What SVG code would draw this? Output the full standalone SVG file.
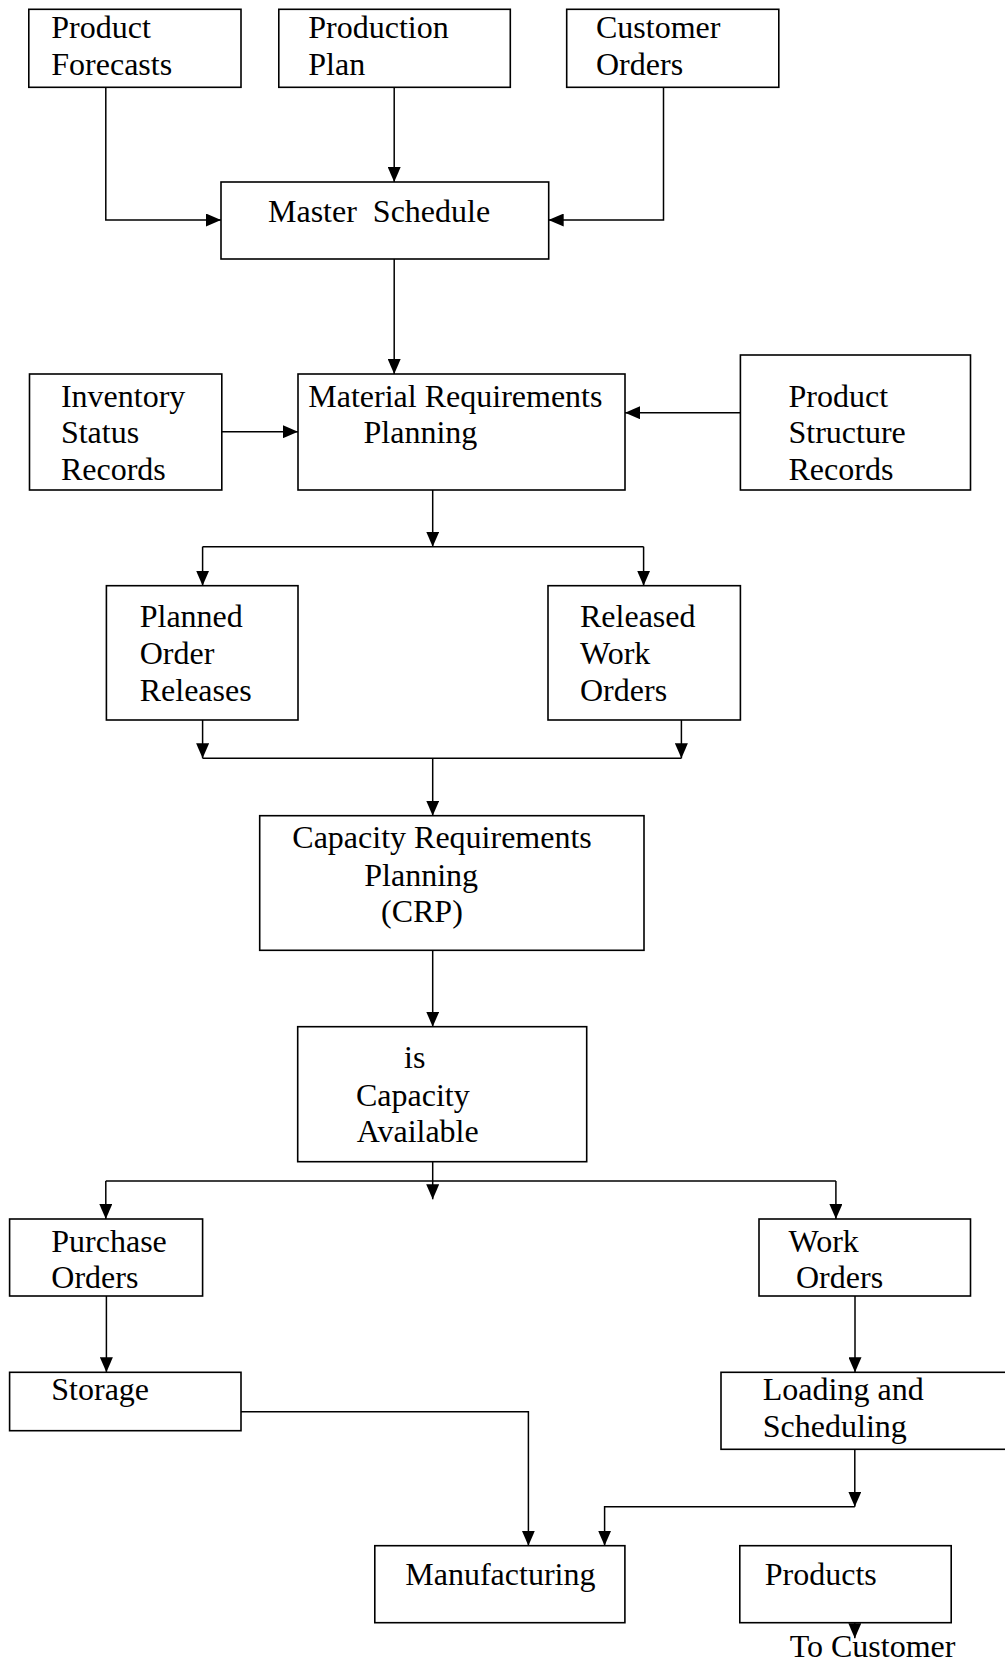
<svg xmlns="http://www.w3.org/2000/svg" width="1005" height="1663" viewBox="0 0 1005 1663">
<style>
rect{fill:#fff;stroke:#000;stroke-width:1.6}
text{font-family:"Liberation Serif","Times New Roman",serif;font-size:32px;fill:#000}
.c path{fill:none;stroke:#000;stroke-width:1.5}
.a{marker-end:url(#ah)}
</style>
<defs>
<marker id="ah" markerUnits="userSpaceOnUse" markerWidth="15" markerHeight="13" refX="15" refY="6.5" orient="auto">
<path d="M0,0 L15,6.5 L0,13 z" fill="#000"/>
</marker>
</defs>
<g class="c" id="connectors">
<path class="a" d="M105.8,87.3 V220 H221"/>
<path class="a" d="M394.2,87.3 V182"/>
<path class="a" d="M663.5,87.3 V220 H548.7"/>
<path class="a" d="M394.2,259 V374"/>
<path class="a" d="M221.8,431.7 H298"/>
<path class="a" d="M740.4,412.7 H625"/>
<path class="a" d="M432.7,490 V546.7"/>
<path d="M202.6,546.7 H643.6"/>
<path class="a" d="M202.6,546.7 V585.7"/>
<path class="a" d="M643.6,546.7 V585.7"/>
<path class="a" d="M202.6,720 V758.3"/>
<path class="a" d="M681.4,720 V758.3"/>
<path d="M202.6,758.3 H681.4"/>
<path class="a" d="M432.7,758.3 V815.7"/>
<path class="a" d="M432.7,950.3 V1026.7"/>
<path class="a" d="M432.7,1161.7 V1199.3"/>
<path d="M105.8,1181 H835.9"/>
<path class="a" d="M105.8,1181 V1219"/>
<path class="a" d="M835.9,1181 V1219"/>
<path class="a" d="M106.4,1296 V1372.3"/>
<path class="a" d="M855,1296 V1372.3"/>
<path class="a" d="M241,1411.7 H528.4 V1545.7"/>
<path class="a" d="M854.8,1449.3 V1506.7"/>
<path class="a" d="M854.8,1506.7 H604.6 V1545.7"/>
<path class="a" d="M854.8,1622.7 V1638.3"/>
</g>
<g id="product-forecasts"><rect x="28.8" y="9.3" width="212.2" height="78"/><text x="51.3" y="38.3">Product</text><text x="51.3" y="75">Forecasts</text></g>
<g id="production-plan"><rect x="278.8" y="9.3" width="231.5" height="78"/><text x="308.3" y="38.3">Production</text><text x="308.3" y="75">Plan</text></g>
<g id="customer-orders"><rect x="566.7" y="9.3" width="212.1" height="78"/><text x="596" y="38.3">Customer</text><text x="596" y="75">Orders</text></g>
<g id="master-schedule"><rect x="221" y="182" width="327.7" height="77"/><text x="268" y="221.7" xml:space="preserve">Master  Schedule</text></g>
<g id="inventory"><rect x="29.5" y="374" width="192.3" height="116"/><text x="60.9" y="406.7">Inventory</text><text x="60.9" y="443.3">Status</text><text x="60.9" y="480">Records</text></g>
<g id="mrp"><rect x="298" y="374" width="327" height="116"/><text x="308.3" y="406.7">Material Requirements</text><text x="363.5" y="443.3">Planning</text></g>
<g id="product-structure"><rect x="740.4" y="355" width="230.1" height="135"/><text x="788.5" y="406.7">Product</text><text x="788.5" y="443.3">Structure</text><text x="788.5" y="480">Records</text></g>
<g id="planned-order-releases"><rect x="106.4" y="585.7" width="191.6" height="134.3"/><text x="139.7" y="627.3">Planned</text><text x="139.7" y="664">Order</text><text x="139.7" y="701">Releases</text></g>
<g id="released-work-orders"><rect x="548" y="585.7" width="192.4" height="134.3"/><text x="580" y="627.3">Released</text><text x="580" y="664">Work</text><text x="580" y="701">Orders</text></g>
<g id="crp"><rect x="259.7" y="815.7" width="384.3" height="134.6"/><text x="292.3" y="848.3">Capacity Requirements</text><text x="364.3" y="885.7">Planning</text><text x="381" y="922.3">(CRP)</text></g>
<g id="capacity-available"><rect x="297.7" y="1026.7" width="289" height="135"/><text x="404" y="1068.3">is</text><text x="356" y="1105.7">Capacity</text><text x="356.7" y="1142.3">Available</text></g>
<g id="purchase-orders"><rect x="9.6" y="1219" width="193" height="77"/><text x="51.3" y="1251.7">Purchase</text><text x="51.3" y="1288.3">Orders</text></g>
<g id="work-orders"><rect x="759" y="1219" width="211.5" height="77"/><text x="788.5" y="1251.7">Work</text><text x="796" y="1288.3">Orders</text></g>
<g id="storage"><rect x="9.6" y="1372.3" width="231.4" height="58.4"/><text x="51.3" y="1400">Storage</text></g>
<g id="loading-scheduling"><rect x="721" y="1372.3" width="300" height="77"/><text x="762.8" y="1400">Loading and</text><text x="762.8" y="1436.7">Scheduling</text></g>
<g id="manufacturing"><rect x="374.8" y="1545.7" width="250.1" height="77"/><text x="405.3" y="1585">Manufacturing</text></g>
<g id="products"><rect x="739.8" y="1545.7" width="211.4" height="77"/><text x="764.8" y="1585">Products</text></g>
<g id="to-customer"><text x="789.7" y="1656.7">To Customer</text></g>
</svg>
